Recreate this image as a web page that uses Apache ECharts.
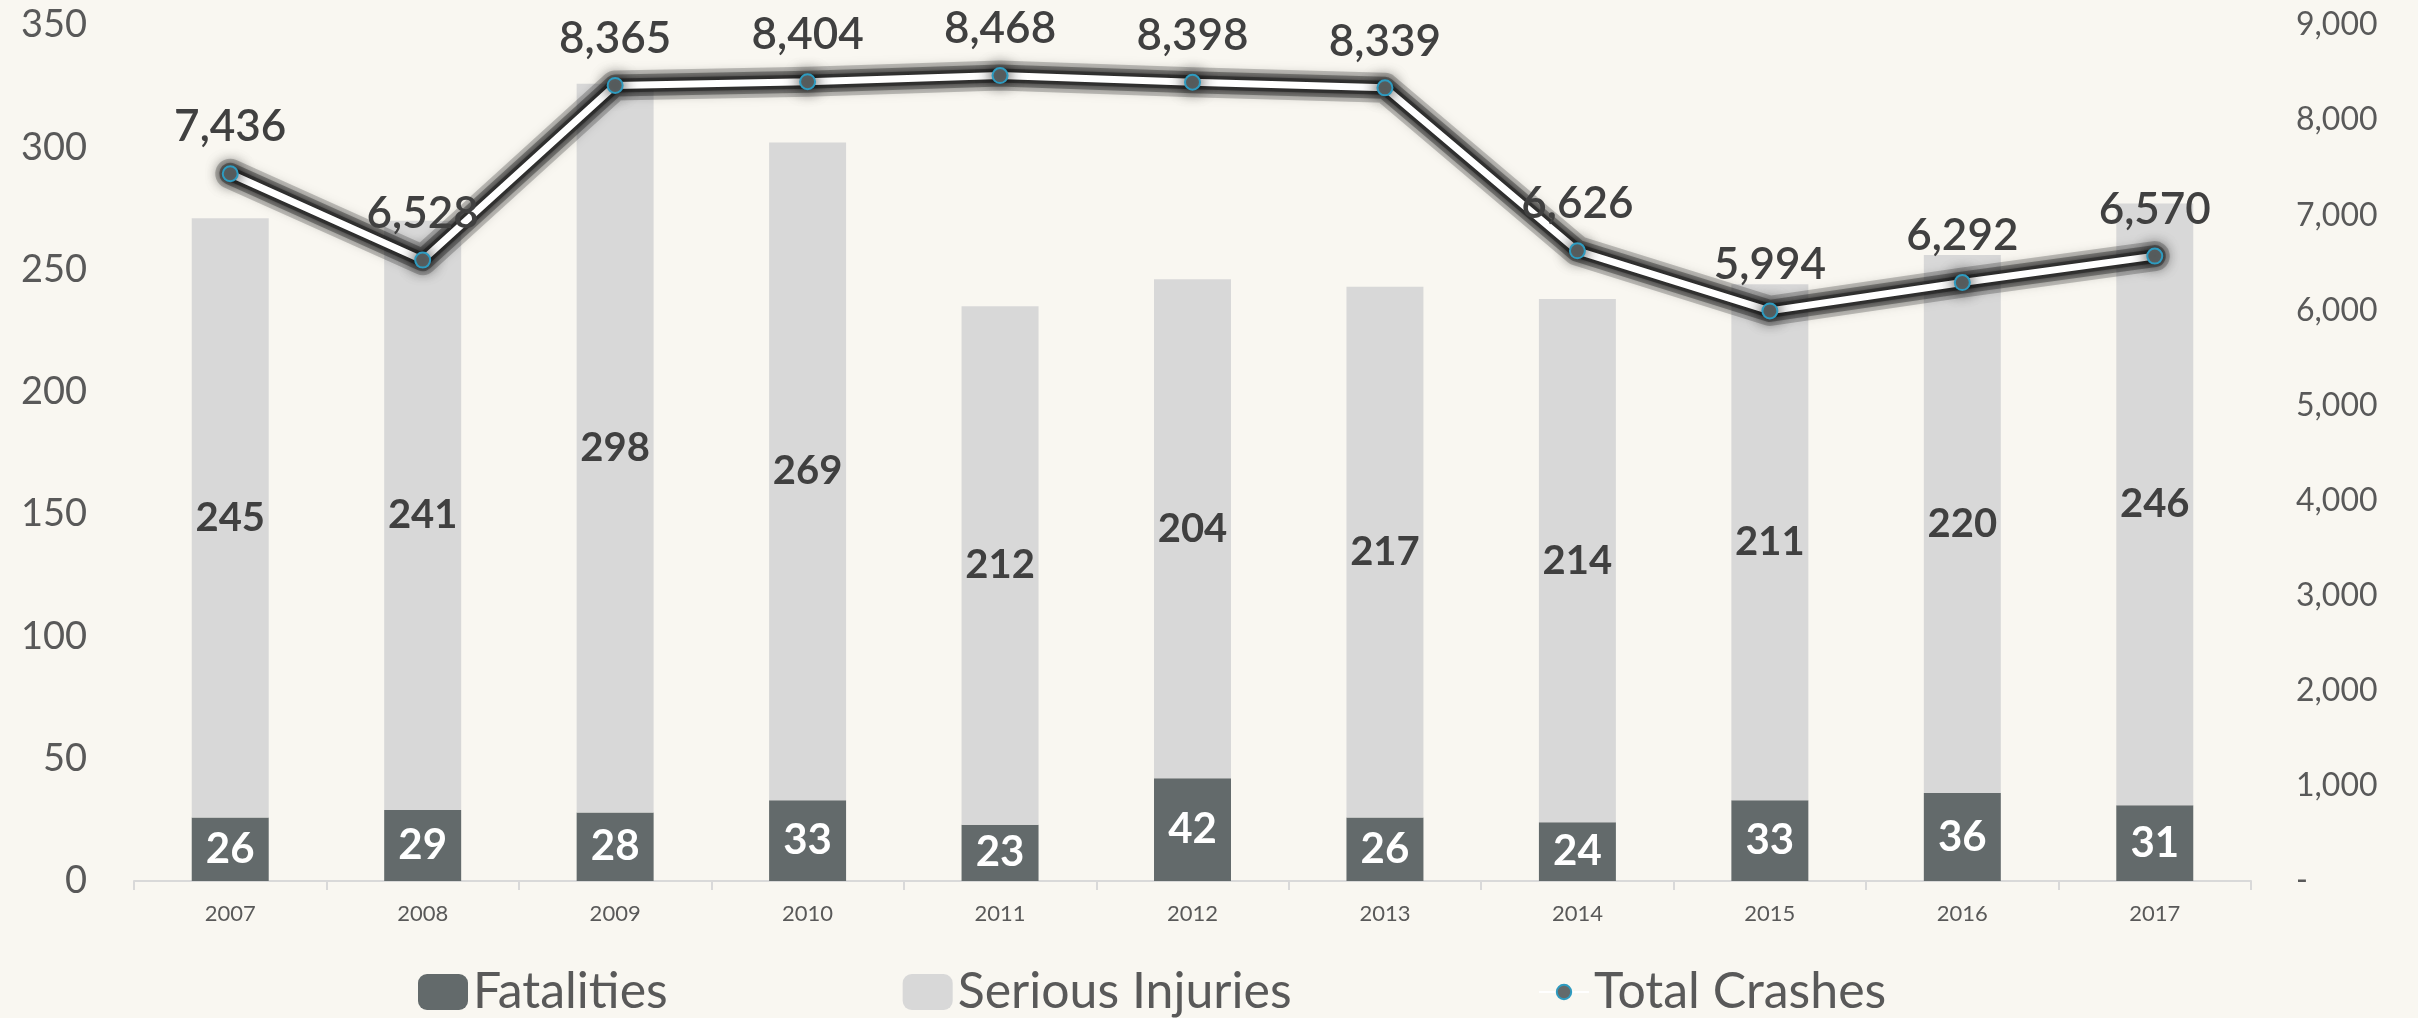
<!DOCTYPE html>
<html>
<head>
<meta charset="utf-8">
<script src="https://cdn.jsdelivr.net/npm/echarts@6/dist/echarts.min.js"></script>
<style>
  html, body { margin: 0; padding: 0; background: #F9F7F1; }
  #main { width: 2418px; height: 1018px; }
</style>
</head>
<body>
<div id="main"></div>
<script>
var years = ['2007', '2008', '2009', '2010', '2011', '2012', '2013', '2014', '2015', '2016', '2017'];
var fatalities = [26, 29, 28, 33, 23, 42, 26, 24, 33, 36, 31];
var seriousInjuries = [245, 241, 298, 269, 212, 204, 217, 214, 211, 220, 246];
var totalCrashes = [7436, 6528, 8365, 8404, 8468, 8398, 8339, 6626, 5994, 6292, 6570];

var font = 'Lato';
var myChart = echarts.init(document.getElementById('main'));

function thousands(v) {
  if (v === 0) return '-';
  return v.toString().replace(/\B(?=(\d{3})+(?!\d))/g, ',');
}

// soft dark halo under the white line, built from a few blurred strokes
function glow(width, alpha, blur) {
  return {
    name: 'glow',
    type: 'line',
    yAxisIndex: 1,
    data: totalCrashes,
    z: 4,
    silent: true,
    symbol: 'none',
    lineStyle: {
      color: 'rgba(30,30,30,' + alpha + ')',
      width: width,
      cap: 'round',
      join: 'round',
      shadowColor: 'rgba(0,0,0,' + alpha + ')',
      shadowBlur: blur
    }
  };
}

var legendText = {
  fontFamily: font,
  fontSize: 50,
  color: '#595959'
};

var option = {
  backgroundColor: '#F9F7F1',
  animation: false,
  textStyle: { fontFamily: font },
  grid: {
    top: 25,
    left: 134,
    right: 167,
    bottom: 137
  },
  legend: [{
    left: 413,
    top: 962,
    itemGap: 235,
    itemWidth: 50,
    itemHeight: 36,
    textStyle: legendText,
    data: ['Fatalities', 'Serious Injuries']
  }, {
    left: 1533,
    top: 962,
    itemWidth: 50,
    itemHeight: 18,
    textStyle: legendText,
    data: ['Total Crashes']
  }],
  xAxis: [{
    type: 'category',
    data: years,
    axisLine: { lineStyle: { color: '#D9D9D9', width: 2 } },
    axisTick: { show: true, length: 9, lineStyle: { color: '#D9D9D9', width: 2 } },
    axisLabel: {
      margin: 22,
      color: '#595959',
      fontSize: 22,
      fontFamily: font
    }
  }],
  yAxis: [{
    type: 'value',
    min: 0,
    max: 350,
    interval: 50,
    axisLine: { show: false },
    axisTick: { show: false },
    splitLine: { show: false },
    axisLabel: {
      margin: 47,
      color: '#595959',
      fontSize: 38,
      fontFamily: font
    }
  }, {
    type: 'value',
    min: 0,
    max: 9000,
    interval: 1000,
    axisLine: { show: false },
    axisTick: { show: false },
    splitLine: { show: false },
    axisLabel: {
      margin: 45,
      color: '#595959',
      fontSize: 32,
      fontFamily: font,
      formatter: thousands
    }
  }],
  series: [{
    name: 'Fatalities',
    type: 'bar',
    stack: 'total',
    barWidth: '40%',
    data: fatalities,
    itemStyle: { color: '#636A6B' },
    label: {
      show: true,
      position: 'inside',
      color: '#FFFFFF',
      fontSize: 42,
      fontWeight: 'bold',
      fontFamily: font
    }
  }, {
    name: 'Serious Injuries',
    type: 'bar',
    stack: 'total',
    barWidth: '40%',
    data: seriousInjuries,
    itemStyle: { color: '#D8D8D8' },
    label: {
      show: true,
      position: 'inside',
      color: '#404040',
      fontSize: 40,
      fontWeight: 'bold',
      fontFamily: font
    }
  },
  glow(30, 0.25, 12),
  glow(22, 0.4, 8),
  glow(14, 0.6, 4),
  {
    name: 'Total Crashes',
    type: 'line',
    yAxisIndex: 1,
    data: totalCrashes,
    z: 5,
    symbol: 'circle',
    symbolSize: 15,
    lineStyle: {
      color: '#FFFFFF',
      width: 7
    },
    itemStyle: {
      color: '#636A6B',
      borderColor: '#2E9BC0',
      borderWidth: 2,
      shadowColor: 'rgba(0,0,0,0.9)',
      shadowBlur: 16
    },
    label: {
      show: true,
      position: 'top',
      distance: 16,
      color: '#404040',
      fontSize: 44,
      fontWeight: 600,
      fontFamily: font,
      formatter: function (p) { return thousands(p.value); }
    }
  }]
};

myChart.setOption(option);
</script>
</body>
</html>
